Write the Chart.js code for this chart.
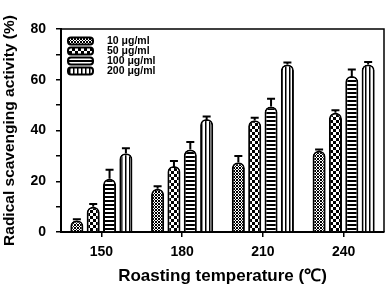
<!DOCTYPE html>
<html>
<head>
<meta charset="utf-8">
<script src="https://cdn.jsdelivr.net/npm/chart.js@4/dist/chart.umd.min.js"></script>
<style>
  html, body { margin: 0; padding: 0; background: #fff; }
  #wrap { width: 388px; height: 289px; }
</style>
</head>
<body>
<div id="wrap"><canvas id="barChart" width="388" height="289"></canvas></div>
<script>
const temperatures = ["150", "180", "210", "240"];
const concentrations = ["10 \u03bcg/ml", "50 \u03bcg/ml", "100 \u03bcg/ml", "200 \u03bcg/ml"];

const conc10 = [4.5, 17, 27.5, 32];
const conc50 = [10, 26, 44, 47];
const conc100 = [21, 32.5, 49.5, 61.5];
const conc200 = [31, 44.5, 66, 66];

const err10 = [0.5, 1, 2.5, 0.5];
const err50 = [1, 2, 1, 1];
const err100 = [3.5, 3, 3, 2.5];
const err200 = [2, 1, 0.8, 1];

const yTicks = [0, 20, 40, 60, 80];

const FONT = "'Liberation Sans', Arial, sans-serif";

function makePattern(kind) {
  const c = document.createElement("canvas");
  const g = c.getContext("2d");
  if (kind === 0) {
    c.width = 3; c.height = 3;
    g.fillStyle = "#fff"; g.fillRect(0, 0, 3, 3);
    g.fillStyle = "#000";
    g.fillRect(0, 0, 1, 1); g.fillRect(2, 0, 1, 1); g.fillRect(1, 1, 1, 1);
    g.fillRect(0, 2, 1, 1); g.fillRect(2, 2, 1, 1);
  } else if (kind === 1) {
    c.width = 6; c.height = 6;
    g.fillStyle = "#fff"; g.fillRect(0, 0, 6, 6);
    g.fillStyle = "#000";
    g.fillRect(0, 0, 3, 3); g.fillRect(3, 3, 3, 3);
  } else if (kind === 2) {
    c.width = 4; c.height = 4;
    g.fillStyle = "#fff"; g.fillRect(0, 0, 4, 4);
    g.fillStyle = "#000"; g.fillRect(0, 0, 4, 2);
  } else {
    c.width = 4; c.height = 4;
    g.fillStyle = "#fff"; g.fillRect(0, 0, 4, 4);
    g.fillStyle = "#000"; g.fillRect(1, 0, 1.5, 4);
  }
  return g.createPattern(c, "repeat");
}

const values = [conc10, conc50, conc100, conc200];
const errors = [err10, err50, err100, err200];

const datasets = concentrations.map((label, i) => {
  return {
    label: label,
    data: values[i],
    errors: errors[i],
    backgroundColor: makePattern(i),
    borderColor: "#000",
    borderWidth: 2,
    borderSkipped: "bottom",
    borderRadius: { topLeft: 6, topRight: 6, bottomLeft: 0, bottomRight: 0 },
    barPercentage: 0.8,
    categoryPercentage: 0.81,
  };
});

const errorBars = {
  id: "errorBars",
  afterDatasetsDraw(chart) {
    const g = chart.ctx;
    const yScale = chart.scales.y;
    g.save();
    g.strokeStyle = "#000";
    g.lineWidth = 2;
    chart.data.datasets.forEach((ds, i) => {
      const meta = chart.getDatasetMeta(i);
      meta.data.forEach((bar, j) => {
        const top = yScale.getPixelForValue(ds.data[j] + ds.errors[j]);
        g.beginPath();
        g.moveTo(bar.x, bar.y);
        g.lineTo(bar.x, top);
        g.moveTo(bar.x - 4, top);
        g.lineTo(bar.x + 4, top);
        g.stroke();
      });
    });
    g.restore();
  },
};

const frameAndLegend = {
  id: "frameAndLegend",
  afterDraw(chart) {
    const g = chart.ctx;
    const a = chart.chartArea;
    g.save();
    g.strokeStyle = "#000";
    g.lineWidth = 1.5;
    g.beginPath();
    g.moveTo(a.left, a.top);
    g.lineTo(a.right, a.top);
    g.lineTo(a.right, a.bottom);
    g.stroke();

    g.font = "bold 10.5px " + FONT;
    g.textBaseline = "middle";
    chart.data.datasets.forEach((ds, i) => {
      const y = a.top + 12 + i * 10;
      const x = a.left + 7;
      g.beginPath();
      g.roundRect(x, y - 3.5, 25, 7, 3);
      g.fillStyle = ds.backgroundColor;
      g.fill();
      g.lineWidth = 2;
      g.stroke();
      g.fillStyle = "#000";
      g.fillText(ds.label, x + 39, y + 0.5);
    });
    g.restore();
  },
};

const config = {
  type: "bar",
  data: {
    labels: temperatures,
    datasets: datasets,
  },
  plugins: [errorBars, frameAndLegend],
  options: {
    responsive: false,
    animation: false,
    layout: { padding: { left: 0, top: 29, right: 4, bottom: 0 } },
    plugins: {
      legend: { display: false },
      tooltip: { enabled: false },
    },
    scales: {
      x: {
        afterFit(scale) { scale.height = 57; },
        grid: {
          offset: false,
          drawOnChartArea: false,
          color: "#000",
          tickLength: 5,
          lineWidth: 1.5,
        },
        border: { color: "#000", width: 2 },
        ticks: {
          color: "#000",
          padding: 7,
          font: { family: FONT, size: 14, weight: "bold" },
        },
        title: {
          display: true,
          text: "Roasting temperature (\u2103)",
          color: "#000",
          padding: { top: 2, bottom: 2 },
          font: { family: FONT, size: 17, weight: "bold" },
        },
      },
      y: {
        min: 0,
        max: 80,
        afterFit(scale) { scale.width = 61; },
        grid: {
          drawOnChartArea: false,
          color: "#000",
          tickLength: 5,
          lineWidth: 1.5,
        },
        border: { color: "#000", width: 2 },
        ticks: {
          stepSize: 10,
          color: "#000",
          padding: 10,
          callback: (v) => (yTicks.includes(v) ? v : ""),
          font: { family: FONT, size: 14, weight: "bold" },
        },
        title: {
          display: true,
          text: "Radical scavenging activity (%)",
          color: "#000",
          padding: { top: 0, bottom: 0 },
          font: { family: FONT, size: 15.5, weight: "bold" },
        },
      },
    },
  },
};

new Chart(document.getElementById("barChart"), config);
</script>
</body>
</html>
